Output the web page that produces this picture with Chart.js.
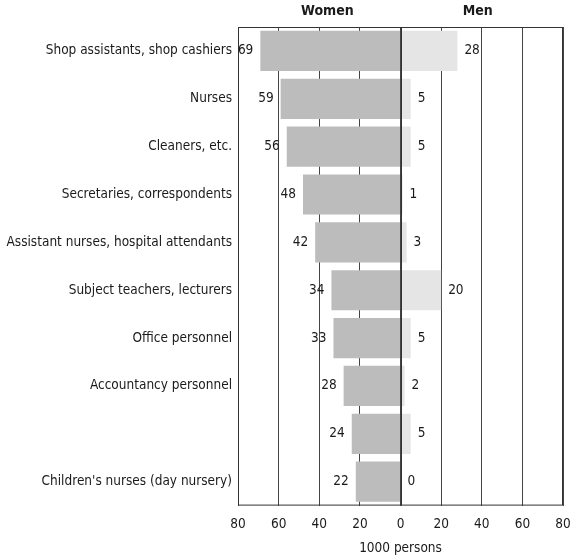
<!DOCTYPE html>
<html lang="en">
<head>
  <meta charset="UTF-8" />
  <title>Women and men by occupation</title>
  <style>
    body { margin: 0; padding: 0; background: #fff; }
    #wrap { width: 575px; height: 557px; }
  </style>
</head>
<body>
  <div id="wrap"><canvas id="chart" width="575" height="557"></canvas></div>

  <script src="https://cdn.jsdelivr.net/npm/chart.js"></script>
  <script>
    const occupations = [
      "Shop assistants, shop cashiers",
      "Nurses",
      "Cleaners, etc.",
      "Secretaries, correspondents",
      "Assistant nurses, hospital attendants",
      "Subject teachers, lecturers",
      "Office personnel",
      "Accountancy personnel",
      "",
      "Children's nurses (day nursery)"
    ];
    const women = [69, 59, 56, 48, 42, 34, 33, 28, 24, 22];
    const men = [28, 5, 5, 1, 3, 20, 5, 2, 5, 0];
    const xTicks = [-80, -60, -40, -20, 0, 20, 40, 60, 80];

    const FONT = "'DejaVu Sans Condensed', sans-serif";
    const SIZE = 13.5;
    const INK = "#1a1a1a";

    // value labels, headers, frame and zero line
    const extras = {
      id: "extras",
      afterDatasetsDraw(chart) {
        const { ctx, chartArea: a, scales: { x } } = chart;
        ctx.save();
        ctx.strokeStyle = "#333";
        ctx.lineWidth = 1;
        ctx.strokeRect(a.left + 0.5, a.top + 0.5, a.right - a.left - 1, a.bottom - a.top - 1);
        const zx = Math.round(x.getPixelForValue(0)) + 0.5;
        ctx.beginPath();
        ctx.moveTo(zx, a.top);
        ctx.lineTo(zx, a.bottom);
        ctx.stroke();

        ctx.font = SIZE + "px " + FONT;
        ctx.fillStyle = INK;
        ctx.textBaseline = "middle";
        chart.data.datasets.forEach((ds, i) => {
          const meta = chart.getDatasetMeta(i);
          meta.data.forEach((el, j) => {
            if (i === 0) {
              ctx.textAlign = "right";
              ctx.fillText(String(women[j]), x.getPixelForValue(-women[j]) - 7, el.y);
            } else {
              ctx.textAlign = "left";
              ctx.fillText(String(men[j]), x.getPixelForValue(men[j]) + 7, el.y);
            }
          });
        });

        ctx.font = "bold 14px " + FONT;
        ctx.textAlign = "center";
        ctx.fillText("Women", x.getPixelForValue(-36), 11);
        ctx.fillText("Men", x.getPixelForValue(38), 11);
        ctx.restore();
      }
    };

    const ctx = document.getElementById("chart").getContext("2d");
    new Chart(ctx, {
      type: "bar",
      data: {
        labels: occupations,
        datasets: [
          {
            label: "Women",
            data: women.map(v => -v),
            backgroundColor: "#bcbcbc",
            barPercentage: 0.84,
            categoryPercentage: 1
          },
          {
            label: "Men",
            data: men,
            backgroundColor: "#e5e5e5",
            barPercentage: 0.84,
            categoryPercentage: 1
          }
        ]
      },
      options: {
        indexAxis: "y",
        responsive: false,
        animation: false,
        layout: { padding: { top: 27, right: 12, bottom: 0, left: 0 } },
        plugins: {
          legend: { display: false },
          tooltip: { enabled: false }
        },
        scales: {
          x: {
            stacked: true,
            min: -80,
            max: 80,
            afterBuildTicks(scale) {
              scale.ticks = xTicks.map(v => ({ value: v }));
            },
            afterFit(scale) {
              scale.paddingLeft = 0;
              scale.paddingRight = 0;
              scale.height -= 3;
            },
            grid: { color: "#444", lineWidth: 1, drawTicks: false },
            border: { display: false },
            ticks: {
              padding: 11,
              color: INK,
              font: { family: FONT, size: SIZE },
              callback: v => String(Math.abs(v))
            },
            title: {
              display: true,
              text: "1000 persons",
              color: INK,
              font: { family: FONT, size: SIZE },
              padding: { top: 0, bottom: 0 }
            }
          },
          y: {
            stacked: true,
            afterFit(scale) { scale.width = 238; },
            grid: { display: false, drawTicks: false },
            border: { display: false },
            ticks: {
              padding: 6,
              color: INK,
              autoSkip: false,
              font: { family: FONT, size: SIZE }
            }
          }
        }
      },
      plugins: [extras]
    });
  </script>
</body>
</html>
